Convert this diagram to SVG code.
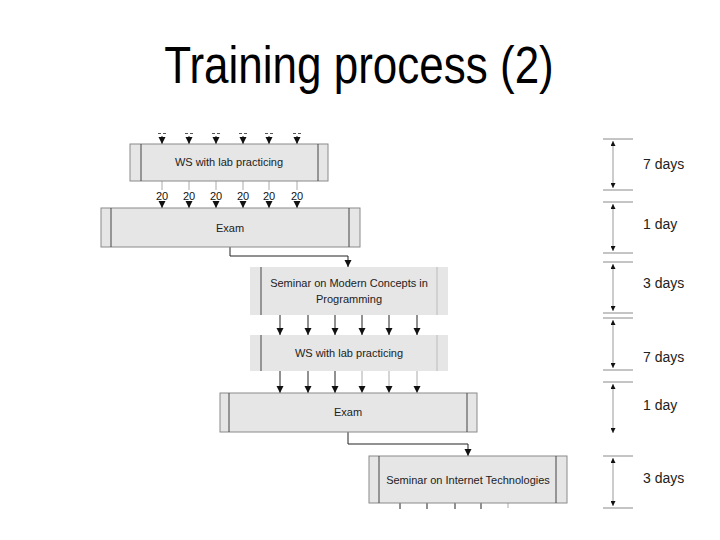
<svg xmlns="http://www.w3.org/2000/svg" width="720" height="540" viewBox="0 0 720 540">
<style>
.box{fill:#e6e6e6;stroke:#8a8a8a;stroke-width:1}
.boxn{fill:#e6e6e6;stroke:none}
.inner{stroke:#444;stroke-width:1}
.lbl{font-family:"Liberation Sans",Arial,sans-serif;font-size:11px;fill:#222;text-anchor:middle}
.num{font-family:"Liberation Sans",Arial,sans-serif;font-size:11px;fill:#111;text-anchor:middle}
.days{font-family:"Liberation Sans",Arial,sans-serif;font-size:14px;fill:#222}
.flow{stroke:#222;stroke-width:1;fill:none}
.faint{stroke:#aaa;stroke-width:1;fill:none}
.tick{stroke:#8a8a8a;stroke-width:1}
.span{stroke:#999;stroke-width:1;fill:none}
</style>
<defs>
<marker id="ah" markerUnits="userSpaceOnUse" markerWidth="8" markerHeight="8" refX="7" refY="3.5" orient="auto">
<path d="M0,0 L7,3.5 L0,7 z" fill="#111"/>
</marker>
<marker id="th" markerUnits="userSpaceOnUse" markerWidth="6" markerHeight="5" refX="5" refY="2.5" orient="auto-start-reverse">
<path d="M0,0 L5,2.5 L0,5 z" fill="#111"/>
</marker>
</defs>
<rect width="720" height="540" fill="#fff"/>
<text x="359" y="83" transform="translate(359,83) scale(1,1.18) translate(-359,-83)" font-family="'Liberation Sans',Arial,sans-serif" font-size="44" fill="#000" text-anchor="middle">Training process (2)</text>

<g id="connectors">
<g stroke="#555" stroke-width="1.2" stroke-dasharray="3,2">
<line x1="158" y1="133.5" x2="166" y2="133.5"/><line x1="185" y1="133.5" x2="193" y2="133.5"/><line x1="212" y1="133.5" x2="220" y2="133.5"/><line x1="239" y1="133.5" x2="247" y2="133.5"/><line x1="265" y1="133.5" x2="273" y2="133.5"/><line x1="293" y1="133.5" x2="301" y2="133.5"/>
</g>
<g class="flow" marker-end="url(#ah)">
<line x1="162" y1="136" x2="162" y2="144"/><line x1="189" y1="136" x2="189" y2="144"/><line x1="216" y1="136" x2="216" y2="144"/><line x1="243" y1="136" x2="243" y2="144"/><line x1="269" y1="136" x2="269" y2="144"/><line x1="297" y1="136" x2="297" y2="144"/>
</g>
<g class="faint">
<line x1="162" y1="181" x2="162" y2="190"/><line x1="189" y1="181" x2="189" y2="190"/><line x1="216" y1="181" x2="216" y2="190"/><line x1="243" y1="181" x2="243" y2="190"/><line x1="269" y1="181" x2="269" y2="190"/><line x1="297" y1="181" x2="297" y2="190"/>
</g>
<g class="num">
<text x="162" y="200">20</text><text x="189" y="200">20</text><text x="216" y="200">20</text><text x="243" y="200">20</text><text x="269" y="200">20</text><text x="297" y="200">20</text>
</g>
<g class="flow" marker-end="url(#ah)">
<line x1="162" y1="201" x2="162" y2="208"/><line x1="189" y1="201" x2="189" y2="208"/><line x1="216" y1="201" x2="216" y2="208"/><line x1="243" y1="201" x2="243" y2="208"/><line x1="269" y1="201" x2="269" y2="208"/><line x1="297" y1="201" x2="297" y2="208"/>
</g>
<path class="flow" d="M230,247 V256 H348 V267" marker-end="url(#ah)"/>
<g class="flow" marker-end="url(#ah)">
<line x1="280" y1="315" x2="280" y2="335"/><line x1="308" y1="315" x2="308" y2="335"/><line x1="335" y1="315" x2="335" y2="335"/><line x1="362" y1="315" x2="362" y2="335"/><line x1="389" y1="315" x2="389" y2="335"/><line x1="417" y1="315" x2="417" y2="335"/>
</g>
<g class="flow" marker-end="url(#ah)">
<line x1="280" y1="371" x2="280" y2="393"/><line x1="308" y1="371" x2="308" y2="393"/><line x1="335" y1="371" x2="335" y2="393"/>
</g>
<g class="faint" marker-end="url(#ah)">
<line x1="362" y1="371" x2="362" y2="393"/><line x1="389" y1="371" x2="389" y2="393"/><line x1="417" y1="371" x2="417" y2="393"/>
</g>
<path class="flow" d="M348,432 V444 H468 V456" marker-end="url(#ah)"/>
<g class="flow">
<line x1="400" y1="503" x2="400" y2="509"/><line x1="427" y1="503" x2="427" y2="509"/><line x1="455" y1="503" x2="455" y2="509"/><line x1="481" y1="503" x2="481" y2="509"/>
</g>
<line class="faint" x1="508" y1="503" x2="508" y2="508"/>
</g>

<g id="ws1">
<rect class="box" x="130" y="144" width="198" height="37"/>
<line class="inner" x1="141" y1="144" x2="141" y2="181"/><line class="inner" x1="318" y1="144" x2="318" y2="181"/>
<text class="lbl" x="229" y="166">WS with lab practicing</text>
</g>
<g id="exam1">
<rect class="box" x="101" y="208" width="259" height="39"/>
<line class="inner" x1="111" y1="208" x2="111" y2="247"/><line class="inner" x1="349" y1="208" x2="349" y2="247"/>
<text class="lbl" x="230" y="232">Exam</text>
</g>
<g id="seminar1">
<rect class="boxn" x="250" y="267" width="198" height="48"/>
<line class="inner" x1="261" y1="267" x2="261" y2="315"/><line x1="437" y1="267" x2="437" y2="315" stroke="#bbb"/>
<text class="lbl" x="349" y="287">Seminar on Modern Concepts in</text>
<text class="lbl" x="349" y="303">Programming</text>
</g>
<g id="ws2">
<rect class="boxn" x="250" y="335" width="198" height="36"/>
<line class="inner" x1="261" y1="335" x2="261" y2="371"/><line x1="437" y1="335" x2="437" y2="371" stroke="#bbb"/>
<text class="lbl" x="349" y="357">WS with lab practicing</text>
</g>
<g id="exam2">
<rect class="box" x="220" y="393" width="257" height="39"/>
<line class="inner" x1="229" y1="393" x2="229" y2="432"/><line class="inner" x1="467" y1="393" x2="467" y2="432"/>
<text class="lbl" x="348" y="416">Exam</text>
</g>
<g id="seminar2">
<rect class="box" x="369" y="456" width="198" height="47"/>
<line class="inner" x1="379" y1="456" x2="379" y2="503"/><line class="inner" x1="556" y1="456" x2="556" y2="503"/>
<text class="lbl" x="468" y="484">Seminar on Internet Technologies</text>
</g>

<g id="timeline">
<g class="tick">
<line x1="603" y1="139" x2="633" y2="139"/><line x1="603" y1="190" x2="633" y2="190"/>
<line x1="603" y1="202" x2="633" y2="202"/><line x1="603" y1="253" x2="633" y2="253"/>
<line x1="603" y1="262" x2="633" y2="262"/><line x1="603" y1="313" x2="633" y2="313"/>
<line x1="603" y1="318" x2="633" y2="318"/><line x1="603" y1="370" x2="633" y2="370"/>
<line x1="603" y1="382" x2="633" y2="382"/>
<line x1="603" y1="456" x2="633" y2="456"/><line x1="603" y1="508" x2="633" y2="508"/>
</g>
<g class="span" marker-start="url(#th)" marker-end="url(#th)">
<line x1="613" y1="141" x2="613" y2="188"/>
<line x1="613" y1="204" x2="613" y2="251"/>
<line x1="613" y1="264" x2="613" y2="311"/>
<line x1="613" y1="320" x2="613" y2="368"/>
<line x1="613" y1="384" x2="613" y2="433"/>
<line x1="613" y1="458" x2="613" y2="506"/>
</g>
<text class="days" x="643" y="169">7 days</text>
<text class="days" x="643" y="229">1 day</text>
<text class="days" x="643" y="288">3 days</text>
<text class="days" x="643" y="362">7 days</text>
<text class="days" x="643" y="410">1 day</text>
<text class="days" x="643" y="483">3 days</text>
</g>
</svg>
